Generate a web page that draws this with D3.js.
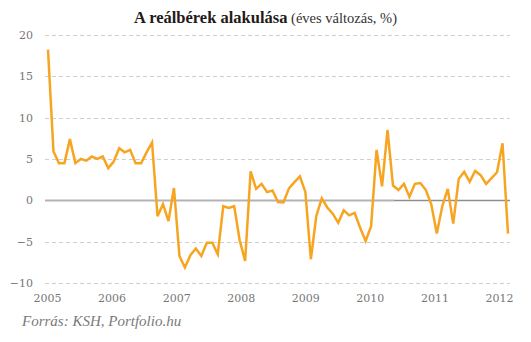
<!DOCTYPE html>
<html>
<head>
<meta charset="utf-8">
<script src="https://cdn.jsdelivr.net/npm/d3@7"></script>
<style>
  html, body { margin: 0; padding: 0; background: #fff; }
  svg { display: block; }
</style>
</head>
<body>
<svg id="chart" width="531" height="342"></svg>
<script>
// Real wages, year-on-year change (%), monthly, January 2005 – January 2012
const years = ["2005", "2006", "2007", "2008", "2009", "2010", "2011", "2012"];
const yTicks = [-10, -5, 0, 5, 10, 15, 20];

const values2005 = [18.2, 5.9, 4.5, 4.5, 7.4, 4.5, 5.0, 4.8, 5.3, 5.0, 5.3, 3.9];
const values2006 = [4.7, 6.3, 5.8, 6.1, 4.5, 4.5, 5.8, 7.0, -1.9, -0.45, -2.5, 1.5];
const values2007 = [-6.7, -8.1, -6.6, -5.8, -6.7, -5.1, -5.1, -6.5, -0.7, -0.9, -0.7, -4.8];
const values2008 = [-7.3, 3.5, 1.4, 2.0, 1.0, 1.2, -0.2, -0.25, 1.45, 2.2, 2.9, 1.0];
const values2009 = [-7.1, -1.85, 0.25, -0.85, -1.6, -2.7, -1.2, -1.8, -1.5, -3.3, -4.9, -3.1];
const values2010 = [6.1, 1.7, 8.5, 1.8, 1.25, 2.0, 0.45, 2.0, 2.1, 1.25, -0.5, -4.0];
const values2011 = [-0.7, 1.4, -2.8, 2.6, 3.45, 2.25, 3.55, 3.05, 2.0, 2.7, 3.4, 6.9];
const values2012 = [-4.0];

const values = [].concat(values2005, values2006, values2007, values2008,
                         values2009, values2010, values2011, values2012);

const svg = d3.select("#chart");
const W = 531, H = 342;

const plot = { left: 45, right: 510, top: 34.7, bottom: 283.3, firstX: 48, lastX: 508 };

const x = d3.scaleLinear().domain([0, values.length - 1]).range([plot.firstX, plot.lastX]);
const y = d3.scaleLinear().domain([-10, 20]).range([plot.bottom, plot.top]);
const yearScale = d3.scalePoint().domain(years).range([47, 499]);

// Title
const title = svg.append("text")
  .attr("x", W / 2).attr("y", 22.5)
  .attr("text-anchor", "middle")
  .style("font-family", "'Liberation Serif', serif");
title.append("tspan")
  .style("font-weight", "bold").style("font-size", "16.5px").attr("fill", "#231a17")
  .text("A reálbérek alakulása");
title.append("tspan")
  .style("font-size", "14.5px").attr("fill", "#333")
  .text(" (éves változás, %)");

// Horizontal gridlines
svg.append("g")
  .selectAll("line")
  .data(yTicks.filter(d => d !== 0))
  .join("line")
  .attr("x1", plot.left).attr("x2", plot.right)
  .attr("y1", d => Math.round(y(d)) + 0.5).attr("y2", d => Math.round(y(d)) + 0.5)
  .attr("stroke", "#cfcfcf").attr("stroke-width", 1)
  .attr("stroke-dasharray", "4,3");

// Zero line
const zeroY = y(0);
svg.append("line")
  .attr("x1", plot.left).attr("x2", 394)
  .attr("y1", zeroY).attr("y2", zeroY)
  .attr("stroke", "#b3b3b3").attr("stroke-width", 2);
svg.append("line")
  .attr("x1", 394).attr("x2", plot.right)
  .attr("y1", zeroY).attr("y2", zeroY)
  .attr("stroke", "#8e8e8e").attr("stroke-width", 1.5);

// Y axis labels
const yAxis = d3.axisLeft(y).tickValues(yTicks).tickSize(0).tickPadding(0);
const gy = svg.append("g").attr("transform", "translate(33,0)").call(yAxis);
gy.select(".domain").remove();
gy.selectAll("text")
  .style("font-family", "'DejaVu Serif', serif").style("font-size", "11px")
  .attr("fill", "#777");

// X axis year labels
const xAxis = d3.axisBottom(yearScale).tickSize(0).tickPadding(0);
const gx = svg.append("g").attr("transform", "translate(0,294)").call(xAxis);
gx.select(".domain").remove();
gx.selectAll("text")
  .attr("dy", "0.71em")
  .style("font-family", "'DejaVu Serif', serif").style("font-size", "11px")
  .attr("fill", "#777");

// Series line
const line = d3.line().x((d, i) => x(i)).y(d => y(d));
svg.append("path")
  .datum(values)
  .attr("d", line)
  .attr("fill", "none")
  .attr("stroke", "#f7a521")
  .attr("stroke-width", 2.5)
  .attr("stroke-linejoin", "miter");

// Source note
svg.append("text")
  .attr("x", 22).attr("y", 326)
  .style("font-family", "'Liberation Serif', serif")
  .style("font-style", "italic").style("font-size", "15px")
  .attr("fill", "#7a7a7a")
  .text("Forrás: KSH, Portfolio.hu");
</script>
</body>
</html>
